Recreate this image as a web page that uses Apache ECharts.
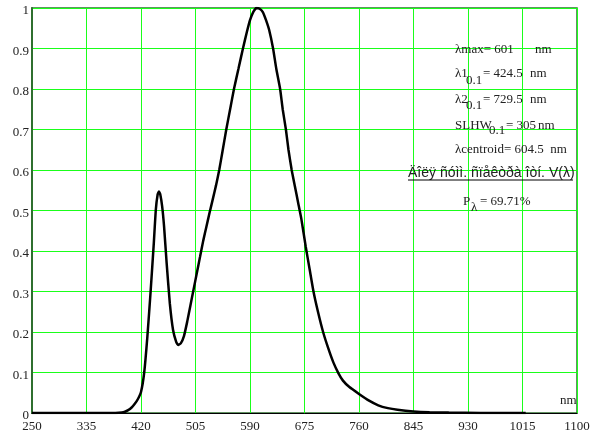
<!DOCTYPE html>
<html>
<head>
<meta charset="utf-8">
<script src="https://cdn.jsdelivr.net/npm/echarts@6/dist/echarts.min.js"></script>
<style>
html,body{margin:0;padding:0;background:#fff;}
#main{width:602px;height:434px;}
</style>
</head>
<body>
<div id="main"></div>
<script>
// длина волны, нм
var wavelengths = [250, 380, 390, 395, 400, 405, 410, 415, 420, 425, 430, 435, 440, 443, 446, 448, 450, 453, 456, 460,
    465, 470, 475, 478, 482, 487, 492, 497, 502, 507, 512, 517, 522, 527, 532, 537, 542, 547, 553, 559,
    565, 572, 579, 585, 590, 595, 600, 605, 610, 615, 620, 626, 631, 637, 641, 646, 650, 655, 660, 665,
    670, 677, 683, 689, 696, 704, 712, 720, 728, 735, 745, 760, 775, 790, 805, 820, 845, 870, 900, 950, 1020];
// относительная интенсивность
var intensity = [0, 0, 0.001, 0.003, 0.007, 0.013, 0.022, 0.034, 0.052, 0.10, 0.19, 0.30, 0.42, 0.50, 0.54, 0.547, 0.54, 0.51, 0.46, 0.37,
    0.27, 0.205, 0.175, 0.168, 0.172, 0.19, 0.225, 0.265, 0.305, 0.345, 0.385, 0.425, 0.46, 0.495, 0.528, 0.562, 0.60, 0.645, 0.70, 0.75,
    0.80, 0.85, 0.90, 0.94, 0.97, 0.99, 1.0, 0.998, 0.99, 0.97, 0.945, 0.90, 0.85, 0.80, 0.75, 0.70, 0.65, 0.60, 0.56, 0.52,
    0.48, 0.41, 0.355, 0.30, 0.25, 0.20, 0.16, 0.125, 0.098, 0.08, 0.064, 0.047, 0.031, 0.019, 0.012, 0.008, 0.004, 0.002, 0.001, 0, 0];

var xMin = 250, xMax = 1100, xStep = 85;
var yMin = 0, yMax = 1, yStep = 0.1;

var serif = '"Liberation Serif", "Times New Roman", serif';
var sans = '"Liberation Sans", Arial, sans-serif';

var points = [];
for (var i = 0; i < wavelengths.length; i++) {
    points.push([wavelengths[i], intensity[i]]);
}

// текстовые подписи справа
function txt(x, y, s, font, size) {
    return {
        type: 'text', left: x, top: y - 6, z: 10,
        style: { text: s, font: (size || 13) + 'px ' + (font || serif), fill: '#222' }
    };
}

var myChart = echarts.init(document.getElementById('main'));
var option = {
    animation: false,
    grid: {
        left: 32, right: 25, top: 8, bottom: 21,
        show: true, borderColor: '#2f6f2f', borderWidth: 1.5
    },
    xAxis: {
        type: 'value',
        min: xMin, max: xMax, interval: xStep,
        axisLine: { show: true, lineStyle: { color: '#000', width: 1 } },
        axisTick: { show: false },
        axisLabel: {
            color: '#222', fontFamily: serif, fontSize: 13, margin: 7,
            formatter: function (v) { return String(v); }
        },
        splitLine: { show: true, lineStyle: { color: '#1aff1a', width: 1 } }
    },
    yAxis: {
        type: 'value',
        min: yMin, max: yMax, interval: yStep,
        axisLine: { show: true, lineStyle: { color: '#2f6f2f', width: 2 } },
        axisTick: { show: false },
        axisLabel: {
            color: '#222', fontFamily: serif, fontSize: 13, margin: 3,
            verticalAlign: 'top', lineHeight: 6,
            formatter: function (v) {
                if (v === 0) return '0';
                if (Math.abs(v - 1) < 1e-9) return '1';
                return v.toFixed(1);
            }
        },
        splitLine: { show: true, lineStyle: { color: '#1aff1a', width: 1 } }
    },
    series: [{
        type: 'line',
        data: points,
        smooth: 0.15,
        showSymbol: false,
        lineStyle: { color: '#000', width: 2.5 },
        z: 5
    }],
    graphic: [
        txt(455, 49, 'λmax= 601'), txt(535, 49, 'nm'),
        txt(455, 73, 'λ1'), txt(466, 80, '0.1'), txt(483, 73, '= 424.5'), txt(530, 73, 'nm'),
        txt(455, 99, 'λ2'), txt(466, 105, '0.1'), txt(483, 99, '= 729.5'), txt(530, 99, 'nm'),
        txt(455, 125, 'SLHW'), txt(489, 130, '0.1'), txt(506, 125, '= 305'), txt(538, 125, 'nm'),
        txt(455, 149, 'λcentroid= 604.5  nm'),
        txt(408, 172, 'Äîëÿ ñóìì. ñïåêòðà îòí. V(λ)', sans, 14),
        { type: 'line', z: 10, shape: { x1: 408, y1: 180, x2: 573, y2: 180 }, style: { stroke: '#000', lineWidth: 1 } },
        txt(463, 201, 'P'), txt(471, 207, 'λ'), txt(480, 201, '= 69.71%'),
        txt(560, 400, 'nm')
    ]
};
myChart.setOption(option);
</script>
</body>
</html>
